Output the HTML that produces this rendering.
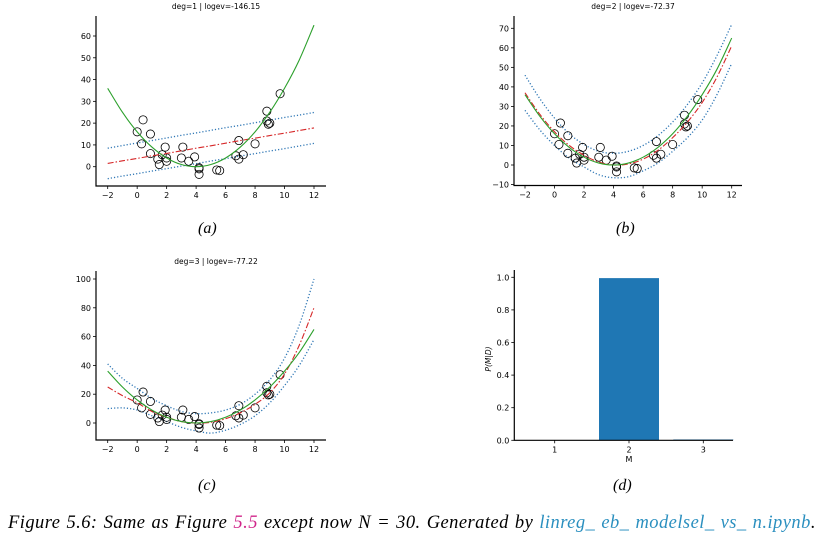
<!DOCTYPE html>
<html><head><meta charset="utf-8"><style>
body{margin:0;background:#fff;width:829px;height:546px;overflow:hidden;position:relative}
svg{position:absolute;left:0;top:0}
.cap{position:absolute;left:8px;top:513px;font-family:"Liberation Serif",serif;font-style:italic;font-size:18.5px;letter-spacing:0.45px;word-spacing:1px;white-space:nowrap;color:#000}
.lbl{position:absolute;font-family:"Liberation Serif",serif;font-style:italic;font-size:16px}
</style></head><body>
<svg id="fig" width="829" height="546"></svg>
<div class="lbl" style="left:198px;top:220px">(a)</div>
<div class="lbl" style="left:616px;top:220px">(b)</div>
<div class="lbl" style="left:198px;top:477px">(c)</div>
<div class="lbl" style="left:613px;top:477px">(d)</div>
<div class="cap">Figure 5.6: Same as Figure <span style="color:#d0268a">5.5</span> except now <i>N</i> = 30.  Generated by <span style="color:#2a8fbf">linreg_ eb_ modelsel_ vs_ n.ipynb</span>.</div>
<script>
const dataX=[0,0.3,0.4,0.9,0.9,1.4,1.5,1.7,1.9,2.0,2.0,3.0,3.1,3.5,3.9,4.2,4.2,4.2,5.4,5.6,6.7,6.9,6.9,7.2,8.0,8.8,8.8,8.9,9.0,9.7];
const dataY=[16,10.5,21.5,6,15,3.5,1,5.5,9,4,2.5,4,9,2.5,4.5,-1,-3.5,-0.5,-1.5,-1.8,5,12,3.5,5.5,10.5,25.5,21,19.5,20,33.5];
const gridX=[-2,-1,0,1,2,3,4,5,6,7,8,9,10,11,12];
const trueY=[36,25,16,9,4,1,0,1,4,9,16,25,36,49,65];
const predA=[1.5,2.7,3.8,5,6.1,7.3,8.5,9.6,10.8,12,13.1,14.3,15.4,16.6,17.8];
const upA=[8.5,9.7,10.9,12,13.2,14.4,15.5,16.7,17.9,19,20.2,21.4,22.6,23.7,24.9];
const loA=[-5.5,-4.3,-3.2,-2,-0.9,0.3,1.4,2.6,3.7,4.9,6,7.2,8.3,9.5,10.7];
const predB=[37,26,17,10,5,1.5,0,0.5,3,7.5,14,22,32,45,61];
const upB=[46,34,24,16,10.5,7,6,7,10,15,22,31,42,56,72];
const loB=[28,18,10,3.5,-1,-5,-6.5,-6,-3,1,7,14,23,36,52];
const predC=[25,19,14,8,4,1,0,0.5,3,7,13,21,34,54,80];
const upC=[41,31,24,17,12,8,6.5,7,9,13,20,30,45,68,100];
const loC=[10,10.5,9,5,1,-3,-5.5,-7,-5,-1,5,14,26,40,58];
const xTicks=[-2,0,2,4,6,8,10,12];
const models=["1","2","3"];
const probs=[0,0.995,0.005];
const probTicks=[0,0.2,0.4,0.6,0.8,1.0];

const NS="http://www.w3.org/2000/svg";
const svg=document.getElementById('fig');
function el(t,a,p){const e=document.createElementNS(NS,t);for(const k in a)e.setAttribute(k,a[k]);(p||svg).appendChild(e);return e;}
function txt(s,a,p){const e=el('text',Object.assign({'font-family':'DejaVu Sans, Liberation Sans, sans-serif','font-size':'8'},a),p);e.textContent=s;return e;}
function lin(d0,d1,r0,r1){return v=>r0+(v-d0)/(d1-d0)*(r1-r0);}
function smooth(pts){let d='M'+pts[0][0]+','+pts[0][1];for(let i=0;i<pts.length-1;i++){const p0=pts[i-1]||pts[i],p1=pts[i],p2=pts[i+1],p3=pts[i+2]||p2;d+=' C'+(p1[0]+(p2[0]-p0[0])/6)+','+(p1[1]+(p2[1]-p0[1])/6)+' '+(p2[0]-(p3[0]-p1[0])/6)+','+(p2[1]-(p3[1]-p1[1])/6)+' '+p2[0]+','+p2[1];}return d;}

function panel(cfg){
  const g=el('g',{});
  
  
  const sx=lin(-2,12,cfg.x0,cfg.x1), sy=lin(cfg.yd0,cfg.yd1,cfg.yr0,cfg.yr1);
  const ax=el('path',{d:`M${cfg.left},${cfg.top} V${cfg.bottom} H${cfg.right}`,stroke:'#000','stroke-width':1.2,fill:'none'},g);
  
  xTicks.forEach(t=>{el('line',{x1:sx(t),x2:sx(t),y1:cfg.bottom,y2:cfg.bottom+3,stroke:'#000','stroke-width':0.8},g);
    const l=txt(t<0?'\u2212'+(-t):String(t),{x:sx(t),y:cfg.bottom+12,'text-anchor':'middle'},g);
    });
  cfg.yTicks.forEach(t=>{el('line',{x1:cfg.left-3,x2:cfg.left,y1:sy(t),y2:sy(t),stroke:'#000','stroke-width':0.8},g);
    const l=txt(t<0?'\u2212'+(-t):String(t),{x:cfg.left-5,y:sy(t)+3,'text-anchor':'end'},g);
    });
  const tt=txt(cfg.title,{x:(cfg.left+cfg.right)/2+5,y:cfg.top-7,'text-anchor':'middle','font-size':'7.5'},g);
  
  const line=(ys,st,nm)=>{const p=el('path',Object.assign({d:smooth(gridX.map((x,i)=>[sx(x),sy(ys[i])])),fill:'none'},st),g);
    };
  const dot={stroke:'#2f77b5','stroke-width':1.3,'stroke-dasharray':'1.2,2'};
  line(cfg.up,dot,'upper-credible-band');
  line(cfg.lo,dot,'lower-credible-band');
  dataX.forEach((x,i)=>{const c=el('circle',{cx:sx(x),cy:sy(dataY[i]),r:4.1,fill:'none',stroke:'#000','stroke-width':0.8},g);
    });
  line(cfg.pred,{stroke:'#d62728','stroke-width':1.1,'stroke-dasharray':'6,2,1.5,2'},'predicted-mean');
  line(trueY,{stroke:'#2ca02c','stroke-width':1.1},'true-function');
}
panel({name:'panel-a',title:'deg=1 | logev=-146.15',x0:107.7,x1:314,yd0:0,yd1:60,yr0:166.7,yr1:36,left:96,right:326,top:16,bottom:186,yTicks:[0,10,20,30,40,50,60],pred:predA,up:upA,lo:loA});
panel({name:'panel-b',title:'deg=2 | logev=-72.37',x0:525,x1:731.7,yd0:0,yd1:70,yr0:165,yr1:28.3,left:514,right:742,top:16,bottom:185.5,yTicks:[-10,0,10,20,30,40,50,60,70],pred:predB,up:upB,lo:loB});
panel({name:'panel-c',title:'deg=3 | logev=-77.22',x0:107.7,x1:314,yd0:0,yd1:100,yr0:423,yr1:279,left:96,right:326,top:271,bottom:440,yTicks:[0,20,40,60,80,100],pred:predC,up:upC,lo:loC});

(function(){
  const g=el('g',{});
  
  
  const left=514.3,bottom=440.3,right=733,top=270;
  const sy=lin(0,1,bottom,277.3);
  const sx=i=>554.7+i*74.3;
  const bw=60;
  probs.forEach((p,i)=>{const b=el('rect',{x:sx(i)-bw/2,y:sy(p),width:bw,height:Math.max(0,bottom-sy(p)),fill:'#1f77b4'},g);
    });
  el('path',{d:`M${left},${top} V${bottom} H${right}`,stroke:'#000','stroke-width':1.2,fill:'none'},g);
  models.forEach((m,i)=>{el('line',{x1:sx(i),x2:sx(i),y1:bottom,y2:bottom+3,stroke:'#000','stroke-width':0.8},g);
    const l=txt(m,{x:sx(i),y:bottom+12,'text-anchor':'middle'},g);
    });
  probTicks.forEach(t=>{el('line',{x1:left-3,x2:left,y1:sy(t),y2:sy(t),stroke:'#000','stroke-width':0.8},g);
    const l=txt(t.toFixed(1),{x:left-5,y:sy(t)+3,'text-anchor':'end'},g);
    });
  const xl=txt('M',{x:629,y:462,'text-anchor':'middle'},g);
  
  const yl=txt('P(M|D)',{x:0,y:0,'text-anchor':'middle','font-style':'italic','font-size':'7.5',transform:'translate(491,359) rotate(-90)'},g);
  
})();
</script>
</body></html>
